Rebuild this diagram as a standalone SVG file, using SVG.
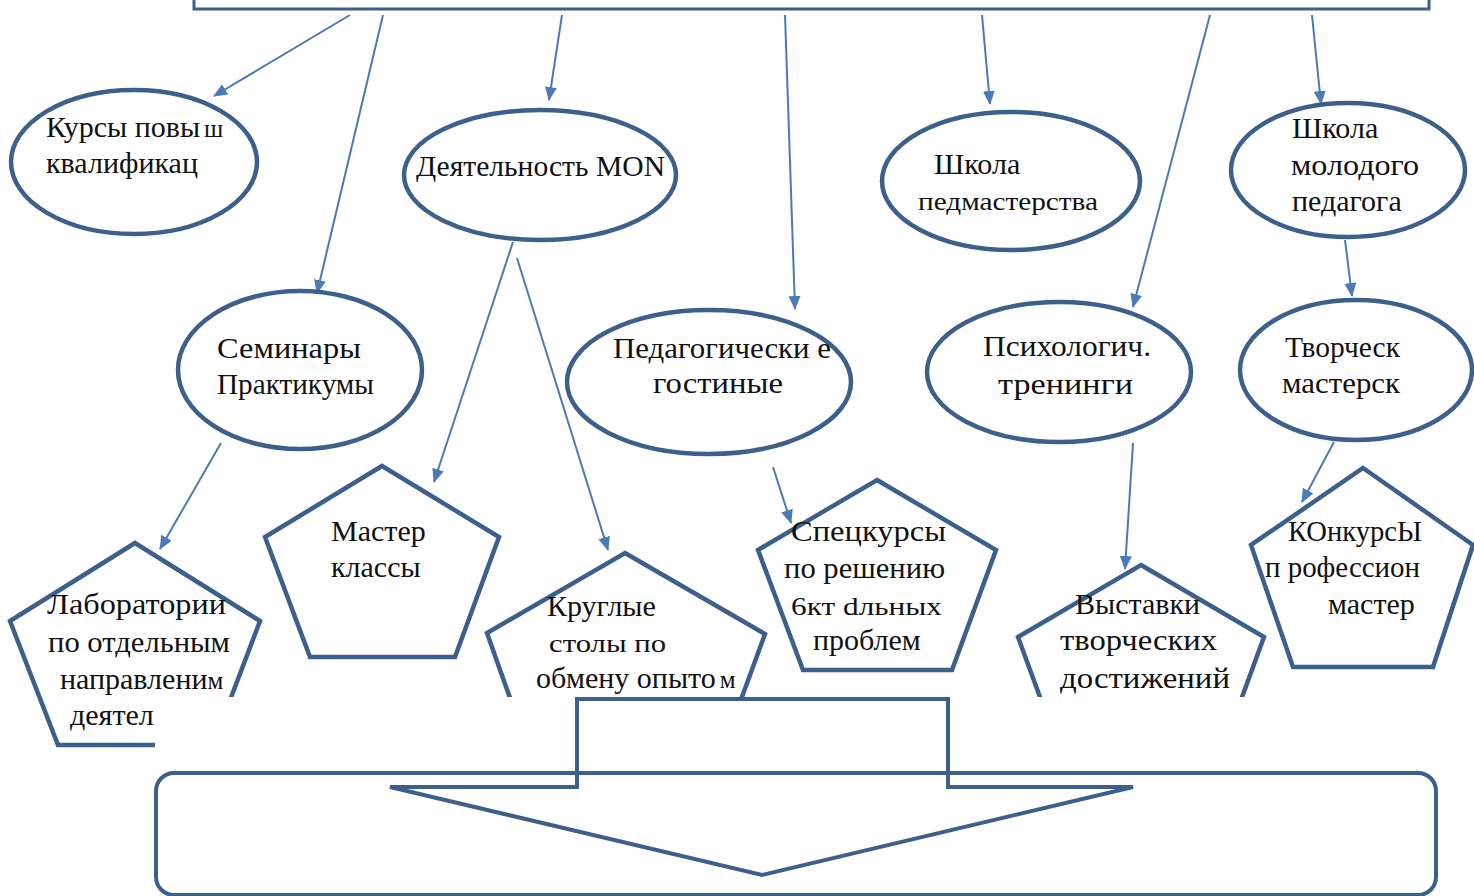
<svg xmlns="http://www.w3.org/2000/svg" width="1474" height="896" viewBox="0 0 1474 896">
<defs>
<marker id="ah" viewBox="0 0 14 12" refX="13" refY="6" markerWidth="14" markerHeight="12" markerUnits="userSpaceOnUse" orient="auto">
<path d="M0,0 L14,6 L0,12 z" fill="#4a7ab8"/>
</marker>
<style>
.sh{fill:#fff;stroke:#3d5f8c;stroke-width:4.5}
.cn{stroke:#4a7ab8;stroke-width:2;fill:none}
.t{font-family:"Liberation Serif","DejaVu Serif",serif;font-size:30px;fill:#111}
.s{font-size:25px}
</style>
</defs>
<rect width="1474" height="896" fill="#fff"/>
<rect x="194" y="-20" width="1235" height="29" fill="#fff" stroke="#3d5f8c" stroke-width="3"/>
<g id="connectors">
<path class="cn" d="M350,15 L214,96" marker-end="url(#ah)"/>
<path class="cn" d="M383,15 L317,293" marker-end="url(#ah)"/>
<path class="cn" d="M562,15 L549,100" marker-end="url(#ah)"/>
<path class="cn" d="M785,15 L795,309" marker-end="url(#ah)"/>
<path class="cn" d="M982,15 L990,104" marker-end="url(#ah)"/>
<path class="cn" d="M1210,15 L1133,307" marker-end="url(#ah)"/>
<path class="cn" d="M1312,15 L1321,104" marker-end="url(#ah)"/>
<path class="cn" d="M1345,240 L1352,296" marker-end="url(#ah)"/>
<path class="cn" d="M221,443 L160,549" marker-end="url(#ah)"/>
<path class="cn" d="M513,242 L434,482" marker-end="url(#ah)"/>
<path class="cn" d="M517,258 L608,550" marker-end="url(#ah)"/>
<path class="cn" d="M773,467 L791,523" marker-end="url(#ah)"/>
<path class="cn" d="M1133,443 L1125,569" marker-end="url(#ah)"/>
<path class="cn" d="M1334,442 L1302,502" marker-end="url(#ah)"/>
</g>
<g id="n-kursy"><ellipse class="sh" cx="134" cy="162" rx="123" ry="72"/>
<text class="t" x="46" y="137">Курсы повы<tspan class="s" dx="4">ш</tspan></text>
<text class="t" x="46" y="173">квалификац</text></g>
<g id="n-mon"><ellipse class="sh" cx="540" cy="175" rx="136" ry="65"/>
<text class="t" x="416" y="176" textLength="249" lengthAdjust="spacingAndGlyphs">Деятельность MON</text></g>
<g id="n-pedmaster"><ellipse class="sh" cx="1011" cy="181" rx="129" ry="69"/>
<text class="t" x="934" y="174">Школа</text>
<text class="t s" x="918" y="210" textLength="180" lengthAdjust="spacingAndGlyphs">педмастерства</text></g>
<g id="n-molod"><ellipse class="sh" cx="1348" cy="170" rx="117" ry="67"/>
<text class="t" x="1292" y="138">Школа</text>
<text class="t" x="1291" y="175" textLength="128" lengthAdjust="spacingAndGlyphs">молодого</text>
<text class="t" x="1292" y="211">педагога</text></g>
<g id="n-seminar"><ellipse class="sh" cx="300" cy="370" rx="122" ry="79"/>
<text class="t" x="217" y="358" textLength="144" lengthAdjust="spacingAndGlyphs">Семинары</text>
<text class="t" x="217" y="394" textLength="157" lengthAdjust="spacingAndGlyphs">Практикумы</text></g>
<g id="n-gost"><ellipse class="sh" cx="709" cy="382" rx="142" ry="72"/>
<text class="t" x="613" y="358" textLength="218" lengthAdjust="spacingAndGlyphs">Педагогически е</text>
<text class="t" x="653" y="393" textLength="130" lengthAdjust="spacingAndGlyphs">гостиные</text></g>
<g id="n-psych"><ellipse class="sh" cx="1059" cy="372" rx="132" ry="70"/>
<text class="t" x="983" y="356" textLength="168" lengthAdjust="spacingAndGlyphs">Психологич.</text>
<text class="t" x="998" y="394" textLength="135" lengthAdjust="spacingAndGlyphs">тренинги</text></g>
<g id="n-tvorch"><ellipse class="sh" cx="1356" cy="370" rx="116" ry="70"/>
<text class="t" x="1285" y="357" textLength="115" lengthAdjust="spacingAndGlyphs">Творческ</text>
<text class="t" x="1282" y="393" textLength="118" lengthAdjust="spacingAndGlyphs">мастерск</text></g>
<g id="n-lab"><polygon class="sh" points="135,543 260,621 213,745 58,745 10,621"/>
<text class="t" x="47" y="614" textLength="179" lengthAdjust="spacingAndGlyphs">Лаборатории</text>
<text class="t" x="48" y="652" textLength="182" lengthAdjust="spacingAndGlyphs">по отдельным</text>
<text class="t" x="60" y="689">направлени<tspan class="s">м</tspan></text>
<text class="t" x="70" y="725">деятел</text></g>
<g id="n-master"><polygon class="sh" points="382,466 499,537 455,657 310,657 265,537"/>
<text class="t" x="331" y="541">Мастер</text>
<text class="t" x="331" y="577">классы</text></g>
<g id="n-krug"><polygon class="sh" points="625,553 765,634 719,760 532,760 487,633"/>
<text class="t" x="547" y="616">Круглые</text>
<text class="t s" x="549" y="652" textLength="117" lengthAdjust="spacingAndGlyphs">столы по</text>
<text class="t" x="536" y="688">обмену опыто<tspan class="s" dx="4">м</tspan></text></g>
<g id="n-spec"><polygon class="sh" points="877,480 996,550 952,670 803,670 758,550"/>
<text class="t" x="791" y="541" textLength="155" lengthAdjust="spacingAndGlyphs">Спецкурсы</text>
<text class="t" x="784" y="578" textLength="161" lengthAdjust="spacingAndGlyphs">по решению</text>
<text class="t s" x="791" y="615" font-size="22" textLength="151" lengthAdjust="spacingAndGlyphs">6кт  dльных</text>
<text class="t" x="813" y="650">проблем</text></g>
<g id="n-vyst"><polygon class="sh" points="1141,565 1264,637 1219,760 1063,760 1018,637"/>
<text class="t" x="1075" y="614">Выставки</text>
<text class="t" x="1060" y="650" textLength="157" lengthAdjust="spacingAndGlyphs">творческих</text>
<text class="t" x="1060" y="688" textLength="170" lengthAdjust="spacingAndGlyphs">достижений</text></g>
<g id="n-konk"><polygon class="sh" points="1363,468 1473,545 1433,667 1293,667 1251,545"/>
<text class="t" x="1288" y="541" textLength="134" lengthAdjust="spacingAndGlyphs">КОнкурсЫ</text>
<text class="t" x="1265" y="577" textLength="155" lengthAdjust="spacingAndGlyphs">п рофессион</text>
<text class="t" x="1328" y="614">мастер</text></g>
<rect x="155" y="697" width="1319" height="199" fill="#fff"/>
<g id="n-result">
<rect x="156" y="773" width="1280" height="122" rx="18" fill="none" stroke="#3d5f8c" stroke-width="4"/>
<path d="M577,699 L948,699 L948,787 L1133,787 L762,875 L390,787 L577,787 Z" fill="none" stroke="#3d5f8c" stroke-width="4"/>
</g>
</svg>
